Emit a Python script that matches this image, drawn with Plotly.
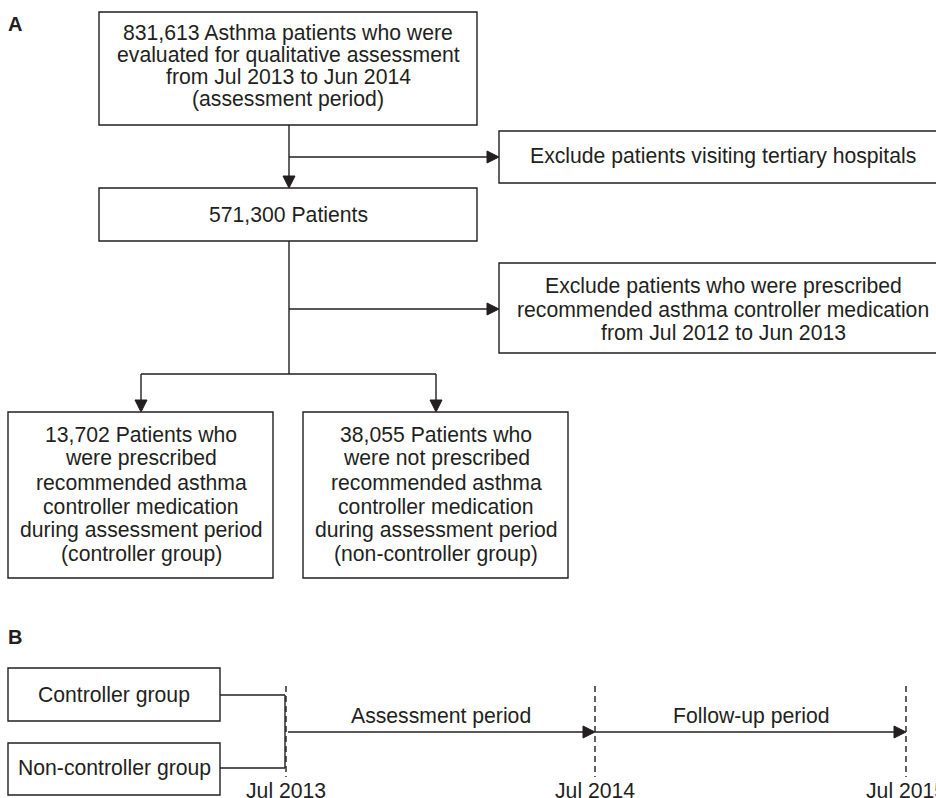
import plotly.graph_objects as go

# flowchart text (panel A)
total_patients = "831,613"
after_exclusion = "571,300"
controller_n = "13,702"
non_controller_n = "38,055"

top_lines = [f"{total_patients} Asthma patients who were",
             "evaluated for qualitative assessment",
             "from Jul 2013 to Jun 2014",
             "(assessment period)"]
mid_lines = [f"{after_exclusion} Patients"]
excl1_lines = ["Exclude patients visiting tertiary hospitals"]
excl2_lines = ["Exclude patients who were prescribed",
               "recommended asthma controller medication",
               "from Jul 2012 to Jun 2013"]
ctrl_lines = [f"{controller_n} Patients who",
              "were prescribed",
              "recommended asthma",
              "controller medication",
              "during assessment period",
              "(controller group)"]
nonctrl_lines = [f"{non_controller_n} Patients who",
                 "were not prescribed",
                 "recommended asthma",
                 "controller medication",
                 "during assessment period",
                 "(non-controller group)"]

# timeline text (panel B)
groups = ["Controller group", "Non-controller group"]
periods = ["Assessment period", "Follow-up period"]
timepoints = ["Jul 2013", "Jul 2014", "Jul 2015"]

W, H = 936, 798
INK = "#231f20"
FONT = "Arial, Liberation Sans, sans-serif"
FS = 21.2

fig = go.Figure()
shapes = []
annotations = []


def box(x0, y0, x1, y1):
    shapes.append(dict(type="rect", x0=x0, y0=y0, x1=x1, y1=y1,
                       line=dict(color=INK, width=1.4), fillcolor="white"))


def line(x0, y0, x1, y1, dash="solid"):
    shapes.append(dict(type="line", x0=x0, y0=y0, x1=x1, y1=y1,
                       line=dict(color=INK, width=1.4, dash=dash)))


def head(x, y, direction, size=12):
    # filled triangle with its tip at (x, y)
    h = size / 2
    if direction == "down":
        p = f"M {x},{y} L {x-h},{y-size} L {x+h},{y-size} Z"
    else:
        p = f"M {x},{y} L {x-size},{y-h} L {x-size},{y+h} Z"
    shapes.append(dict(type="path", path=p, fillcolor=INK,
                       line=dict(color=INK, width=1)))


def text_lines(lines, cx, cy, spacing, size=FS):
    n = len(lines)
    for i, t in enumerate(lines):
        y = cy + (i - (n - 1) / 2) * spacing
        annotations.append(dict(x=cx, y=y, text=t, showarrow=False,
                                xanchor="center", yanchor="middle",
                                font=dict(family=FONT, size=size, color=INK)))


def label(t, x, y, anchor="center", size=FS, bold=False):
    annotations.append(dict(x=x, y=y, text=f"<b>{t}</b>" if bold else t,
                            showarrow=False, xanchor=anchor, yanchor="middle",
                            font=dict(family=FONT, size=size, color=INK)))


# ---- panel A ----
label("A", 6, 24, anchor="left", size=20, bold=True)

box(99, 12, 477, 125)
text_lines(top_lines, 288, 65.5, 22)

line(289, 125, 289, 178)
head(289, 188, "down")
line(289, 157, 489, 157)
head(499, 157, "right")

box(499, 131, 948, 183)
text_lines(excl1_lines, 723, 156, 23)

box(99, 188, 477, 241)
text_lines(mid_lines, 288, 214, 23)

line(289, 241, 289, 374)
line(289, 309, 489, 309)
head(499, 309, "right")

box(499, 263, 948, 353)
text_lines(excl2_lines, 723, 309, 23.5)

line(141, 374, 436, 374)
line(141, 374, 141, 402)
line(436, 374, 436, 402)
head(141, 412, "down")
head(436, 412, "down")

box(8, 412, 273, 578)
text_lines(ctrl_lines, 141, 494, 24)
box(303, 412, 568, 578)
text_lines(nonctrl_lines, 436, 494, 24)

# ---- panel B ----
label("B", 6, 637, anchor="left", size=20, bold=True)

box(8, 668, 220, 721)
text_lines([groups[0]], 114, 695, 24)
box(8, 743, 220, 795)
text_lines([groups[1]], 114, 768, 24)

line(220, 695, 285, 695)
line(220, 768, 285, 768)
line(285, 695, 285, 768)

tick_x = [286, 595, 906]
for x, t in zip(tick_x, timepoints):
    line(x, 686, x, 777, dash="6px,4px")
    label(t, x, 790)

line(288, 732, 585, 732)
head(595, 732, "right")
line(595, 732, 896, 732)
head(906, 732, "right")

label(periods[0], 441, 716)
label(periods[1], 751, 716)

fig.update_layout(
    width=W, height=H,
    margin=dict(l=0, r=0, t=0, b=0),
    paper_bgcolor="white", plot_bgcolor="white",
    xaxis=dict(range=[0, W], visible=False, fixedrange=True),
    yaxis=dict(range=[H, 0], visible=False, fixedrange=True),
    shapes=shapes, annotations=annotations,
    showlegend=False,
)

# page body has a default 8px margin; drop it so the figure fills the window
fig.write_html("out.html", config={"displayModeBar": False},
               post_script="document.body.style.margin='0';")
